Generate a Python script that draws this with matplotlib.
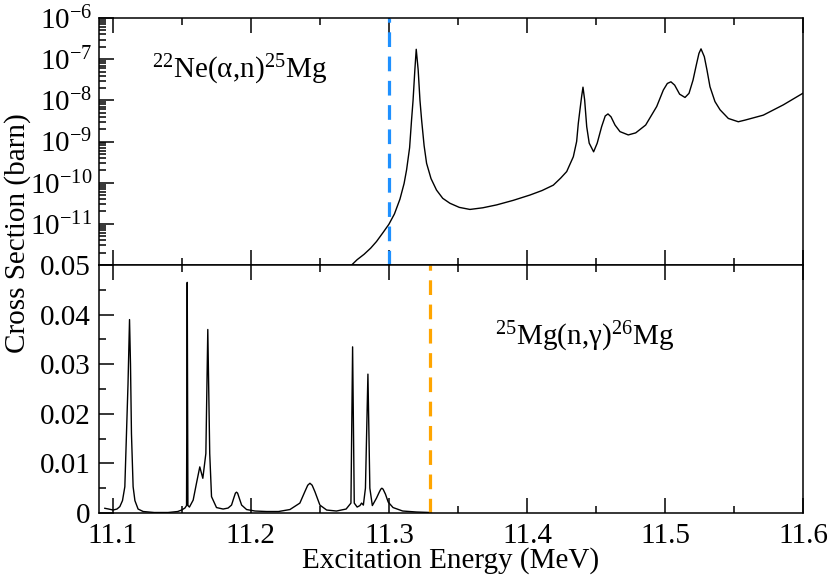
import numpy as np
import matplotlib
matplotlib.use('Agg')
import matplotlib.pyplot as plt
from matplotlib.ticker import FixedLocator, MultipleLocator, FuncFormatter, NullFormatter

plt.rcParams['font.family'] = ['Liberation Serif', 'DejaVu Serif']
plt.rcParams['mathtext.fontset'] = 'custom'
plt.rcParams['mathtext.rm'] = 'Liberation Serif'
plt.rcParams['mathtext.it'] = 'Liberation Serif:italic'
plt.rcParams['mathtext.bf'] = 'Liberation Serif:bold'

# ---------------- data ----------------
# 22Ne(a,n)25Mg : excitation energy (MeV) and log10 of cross section (barn)
alpha_n_energy = [
    11.2730, 11.2770, 11.2820, 11.2868, 11.2910, 11.2960, 11.3000, 11.3040,
    11.3080, 11.3110, 11.3128, 11.3150, 11.3164, 11.3175, 11.3188, 11.3198,
    11.3212, 11.3225, 11.3237, 11.3255, 11.3273, 11.3305, 11.3345, 11.3390,
    11.3442, 11.3510, 11.3587, 11.3680, 11.3780, 11.3900, 11.4022, 11.4110,
    11.4191, 11.4244, 11.4288, 11.4336, 11.4360, 11.4372, 11.4384, 11.4396,
    11.4406, 11.4418, 11.4433, 11.4451, 11.4483, 11.4509, 11.4541, 11.4567,
    11.4587, 11.4609, 11.4638, 11.4674, 11.4734, 11.4788, 11.4860, 11.4940,
    11.4988, 11.5017, 11.5043, 11.5070, 11.5106, 11.5145, 11.5174, 11.5203,
    11.5227, 11.5246, 11.5261, 11.5285, 11.5304, 11.5326, 11.5362, 11.5399,
    11.5459, 11.5531, 11.5580, 11.5712, 11.5857, 11.5998]
alpha_n_log10_xs = [
    -12.00, -11.87, -11.74, -11.59, -11.43, -11.20, -11.01, -10.76,
    -10.40, -10.02, -9.69, -9.15, -8.48, -8.00, -7.26, -6.76,
    -7.26, -8.00, -8.48, -9.10, -9.53, -9.90, -10.18, -10.38,
    -10.50, -10.60, -10.65, -10.61, -10.54, -10.43, -10.30, -10.19,
    -10.06, -9.89, -9.73, -9.37, -9.00, -8.56, -8.23, -7.91,
    -7.68, -7.99, -8.64, -9.04, -9.25, -9.04, -8.64, -8.38,
    -8.33, -8.40, -8.60, -8.76, -8.84, -8.79, -8.60, -8.15,
    -7.75, -7.59, -7.55, -7.63, -7.85, -7.93, -7.83, -7.51,
    -7.14, -6.86, -6.75, -6.94, -7.26, -7.67, -8.03, -8.23,
    -8.44, -8.52, -8.48, -8.36, -8.11, -7.83]

# 25Mg(n,g)26Mg : excitation energy (MeV) and cross section (barn)
n_gamma_energy = [
    11.0942, 11.0970, 11.1002, 11.1030, 11.1051, 11.1070, 11.1087, 11.1099,
    11.1110, 11.1121, 11.1128, 11.1135, 11.1147, 11.1160, 11.1183, 11.1220,
    11.1300, 11.1400, 11.1470, 11.1498, 11.1522, 11.1534, 11.1539, 11.1544,
    11.1555, 11.1582, 11.1606, 11.1630, 11.1652, 11.1674, 11.1688, 11.1702,
    11.1715, 11.1751, 11.1799, 11.1835, 11.1860, 11.1876, 11.1888, 11.1896,
    11.1904, 11.1916, 11.1933, 11.1969, 11.2030, 11.2114, 11.2200, 11.2283,
    11.2355, 11.2391, 11.2412, 11.2428, 11.2444, 11.2464, 11.2500, 11.2549,
    11.2620, 11.2690, 11.2725, 11.2737, 11.2749, 11.2770, 11.2790, 11.2802,
    11.2815, 11.2830, 11.2848, 11.2862, 11.2880, 11.2910, 11.2930, 11.2941,
    11.2949, 11.2958, 11.2975, 11.2995, 11.3030, 11.3100, 11.3200, 11.3300]
n_gamma_xs = [
    0.00095, 0.0008, 0.0006, 0.0008, 0.0013, 0.0025, 0.0053, 0.0161,
    0.0260, 0.0390, 0.0300, 0.0160, 0.0053, 0.0025, 0.0008, 0.0003,
    0.0001, 0.0001, 0.0003, 0.0006, 0.0010, 0.0015, 0.0465, 0.0015,
    0.0012, 0.0026, 0.0060, 0.0093, 0.0070, 0.0120, 0.0370, 0.0120,
    0.0033, 0.0011, 0.0008, 0.0010, 0.0016, 0.0030, 0.0040, 0.0042,
    0.0040, 0.0030, 0.0016, 0.0007, 0.0004, 0.0003, 0.0003, 0.0007,
    0.0020, 0.0043, 0.0056, 0.0060, 0.0056, 0.0043, 0.0016, 0.0006,
    0.0004, 0.0008, 0.0020, 0.0335, 0.0020, 0.0012, 0.0015, 0.0020,
    0.0016, 0.0050, 0.0280, 0.0050, 0.0015, 0.0030, 0.0042, 0.0048,
    0.0050, 0.0048, 0.0038, 0.0022, 0.0011, 0.0004, 0.0002, 0.0001]

alpha_threshold = 11.30     # blue dashed line (top panel)
neutron_threshold = 11.33   # orange dashed line (bottom panel)

top_major_ticks = [1e-12, 1e-11, 1e-10, 1e-9, 1e-8, 1e-7, 1e-6]
bottom_major_ticks = [0.0, 0.01, 0.02, 0.03, 0.04, 0.05]
bottom_tick_labels = ['0', '0.01', '0.02', '0.03', '0.04', '0.05']
x_major_ticks = [11.1, 11.2, 11.3, 11.4, 11.5, 11.6]

# ---------------- figure ----------------
FS = 21
fig = plt.figure(figsize=(8.3, 5.77), dpi=100)
ax1 = fig.add_axes([0.1193, 0.5407, 0.8482, 0.4281])
ax2 = fig.add_axes([0.1193, 0.1109, 0.8482, 0.4298])

xs_top = 10.0 ** np.asarray(alpha_n_log10_xs)
ax1.plot(alpha_n_energy, xs_top, color='black', lw=1.0)
ax1.axvline(alpha_threshold, color='#1E90FF', lw=2.3, ls=(0, (4.6, 3.0)))
ax1.set_yscale('log')
ax1.set_ylim(1e-12, 1e-6)
ax1.set_xlim(11.09, 11.60)

ax2.plot(n_gamma_energy, n_gamma_xs, color='black', lw=1.0)
ax2.axvline(neutron_threshold, color='#FFA500', lw=2.3, ls=(0, (4.6, 3.0)))
ax2.set_ylim(0, 0.05)
ax2.set_xlim(11.09, 11.60)

for ax in (ax1, ax2):
    ax.xaxis.set_major_locator(FixedLocator(x_major_ticks))
    ax.xaxis.set_minor_locator(MultipleLocator(0.05))
    ax.tick_params(which='both', direction='in', top=True, right=False,
                   labelsize=FS, width=1.1)
    ax.tick_params(which='major', length=10.5, pad=5)
    ax.tick_params(which='minor', length=5)
    for sp in ax.spines.values():
        sp.set_linewidth(1.1)

ax2.tick_params(axis='x', which='major', pad=7)
ax2.tick_params(axis='y', which='major', pad=6)

ax1.xaxis.set_major_formatter(NullFormatter())
ax1.yaxis.set_major_locator(FixedLocator(top_major_ticks))
ax1.yaxis.set_minor_locator(FixedLocator(
    [m * 10.0 ** e for e in range(-12, -6) for m in range(2, 10)]))
ax1.yaxis.set_minor_formatter(NullFormatter())


def log_fmt(v, pos):
    e = int(round(np.log10(v)))
    if e == -12:
        return ''
    return r'$\mathdefault{10^{%d}}$' % e


ax1.yaxis.set_major_formatter(FuncFormatter(log_fmt))

ax2.yaxis.set_major_locator(FixedLocator(bottom_major_ticks))
ax2.yaxis.set_minor_locator(MultipleLocator(0.005))
ax2.yaxis.set_major_formatter(
    FuncFormatter(lambda v, pos: bottom_tick_labels[pos] if pos is not None and pos < len(bottom_tick_labels) else ''))
ax2.xaxis.set_major_formatter(FuncFormatter(lambda v, pos: '%.1f' % v))

ax1.text(0.0753, 0.757, r'$^{22}$Ne(α,n)$^{25}$Mg', transform=ax1.transAxes,
         fontsize=FS, ha='left', va='baseline')
ax2.text(0.5625, 0.677, r'$^{25}$Mg(n,γ)$^{26}$Mg', transform=ax2.transAxes,
         fontsize=FS, ha='left', va='baseline')

fig.text(0.5434, 0.0156, 'Excitation Energy (MeV)', fontsize=FS,
         ha='center', va='baseline')
fig.text(0.021, 0.596, 'Cross Section (barn)', fontsize=FS, rotation=90,
         ha='center', va='center')

fig.savefig('out.png', dpi=100)
